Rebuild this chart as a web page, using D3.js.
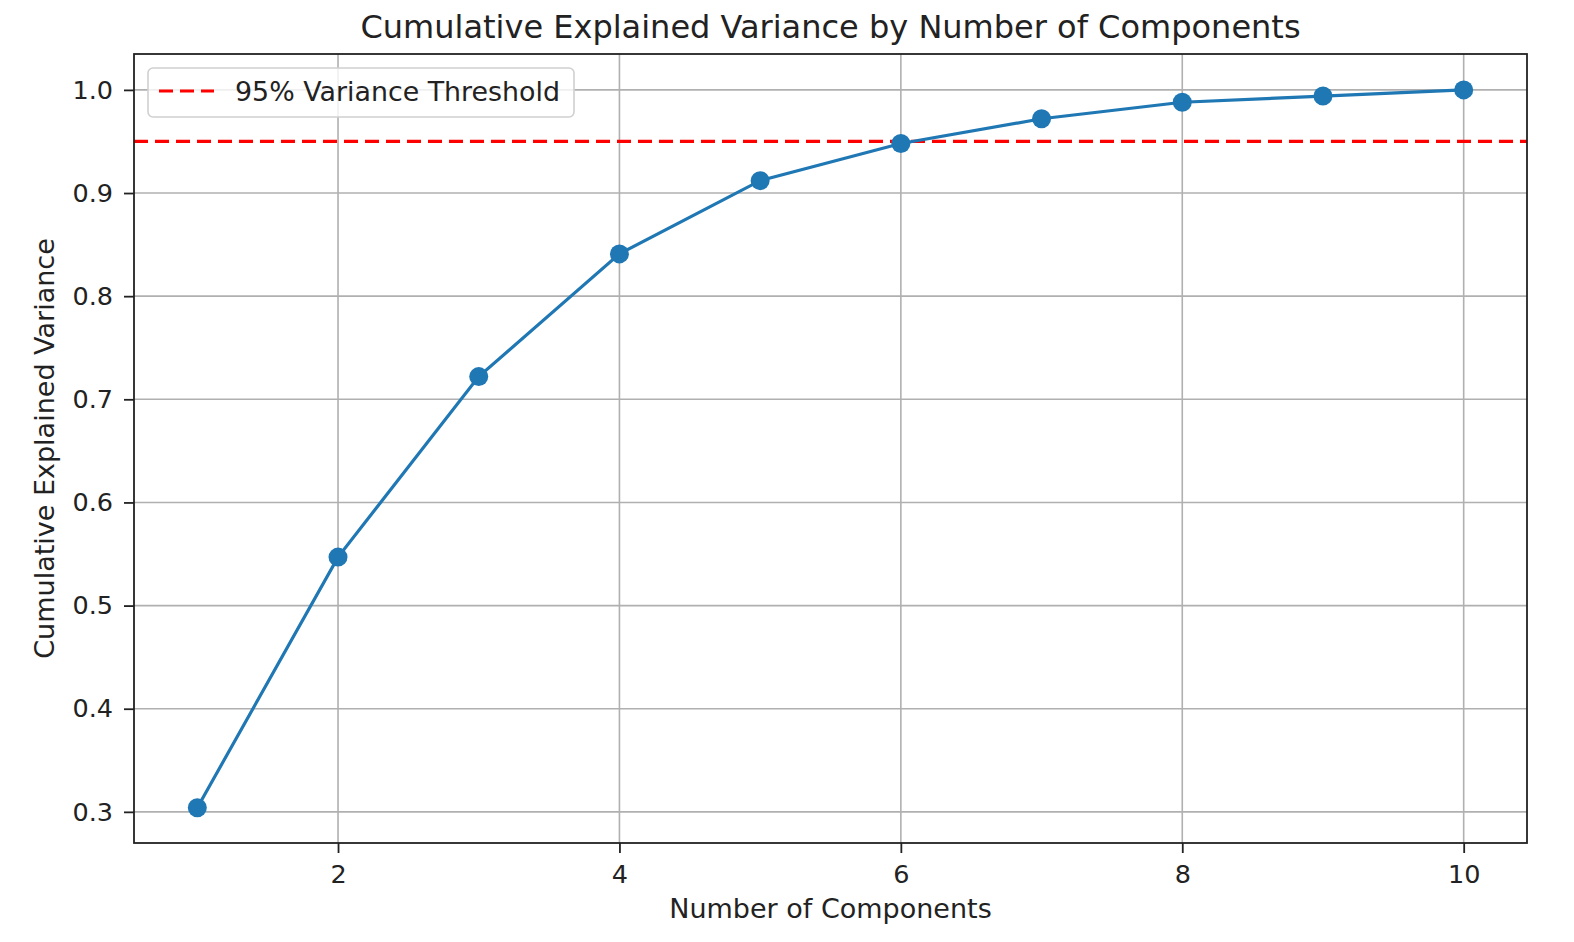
<!DOCTYPE html>
<html><head><meta charset="utf-8">
<script src="https://cdn.jsdelivr.net/npm/d3@7"></script>
<style>body{margin:0;background:#fff;} text{font-family:"DejaVu Sans",sans-serif;fill:#222;}</style>
</head><body><svg id="c" width="1574" height="942"></svg>
<script>
const components = [1,2,3,4,5,6,7,8,9,10];
const cumulativeVariance = [0.304,0.547,0.722,0.841,0.912,0.948,0.972,0.988,0.994,1.0];
const threshold = 0.95;
const xTicks = [2,4,6,8,10];
const yTicks = [0.3,0.4,0.5,0.6,0.7,0.8,0.9,1.0];
const titleText = "Cumulative Explained Variance by Number of Components";
const xLabel = "Number of Components";
const yLabel = "Cumulative Explained Variance";
const legendLabel = "95% Variance Threshold";

const svg = d3.select("#c");
const L=134, R=1527, T=54, B=843;
const x = d3.scaleLinear().domain([0.55,10.45]).range([L,R]);
const y = d3.scaleLinear().domain([0.2698,1.0348]).range([B,T]);
const grid = svg.append("g");
xTicks.forEach(t=>grid.append("line").attr("x1",x(t)).attr("x2",x(t)).attr("y1",T).attr("y2",B).attr("stroke","#b0b0b0").attr("stroke-width",1.6));
yTicks.forEach(t=>grid.append("line").attr("x1",L).attr("x2",R).attr("y1",y(t)).attr("y2",y(t)).attr("stroke","#b0b0b0").attr("stroke-width",1.6));

const xa = svg.append("g").attr("transform",`translate(0,${B})`).call(d3.axisBottom(x).tickValues(xTicks).tickFormat(d3.format("d")).tickSize(10).tickPadding(12));
const ya = svg.append("g").attr("transform",`translate(${L},0)`).call(d3.axisLeft(y).tickValues(yTicks).tickFormat(d3.format(".1f")).tickSize(10).tickPadding(11));
[xa,ya].forEach(a=>{a.select(".domain").remove();a.selectAll("line").attr("stroke","#222").attr("stroke-width",1.8);a.selectAll("text").attr("font-size",25.5).attr("font-family","DejaVu Sans").attr("fill","#222");});

svg.append("line").attr("x1",L).attr("x2",R).attr("y1",y(threshold)).attr("y2",y(threshold)).attr("stroke","#ff0000").attr("stroke-width",3.2).attr("stroke-dasharray","14,7");

const line = d3.line().x((d,i)=>x(components[i])).y(d=>y(d));
svg.append("path").datum(cumulativeVariance).attr("d",line).attr("fill","none").attr("stroke","#1f77b4").attr("stroke-width",3.2);
svg.selectAll("circle.m").data(cumulativeVariance).join("circle").attr("class","m").attr("cx",(d,i)=>x(components[i])).attr("cy",d=>y(d)).attr("r",9.5).attr("fill","#1f77b4");

svg.append("rect").attr("x",L).attr("y",T).attr("width",R-L).attr("height",B-T).attr("fill","none").attr("stroke","#222").attr("stroke-width",1.8);

const lg = svg.append("g");
lg.append("rect").attr("x",148).attr("y",68).attr("width",426).attr("height",49).attr("rx",5).attr("fill","rgba(255,255,255,0.8)").attr("stroke","#d0d0d0").attr("stroke-width",1.6);
lg.append("line").attr("x1",159).attr("x2",214).attr("y1",91).attr("y2",91).attr("stroke","#ff0000").attr("stroke-width",3.2).attr("stroke-dasharray","14,7");
lg.append("text").attr("x",235).attr("y",101).attr("font-size",27).attr("textLength",325).attr("lengthAdjust","spacingAndGlyphs").text(legendLabel);

svg.append("text").attr("x",(L+R)/2).attr("y",38).attr("text-anchor","middle").attr("font-size",32).text(titleText);
svg.append("text").attr("x",(L+R)/2).attr("y",918).attr("text-anchor","middle").attr("font-size",27).text(xLabel);
svg.append("text").attr("transform",`translate(54,${(T+B)/2}) rotate(-90)`).attr("text-anchor","middle").attr("font-size",27).text(yLabel);
</script></body></html>
